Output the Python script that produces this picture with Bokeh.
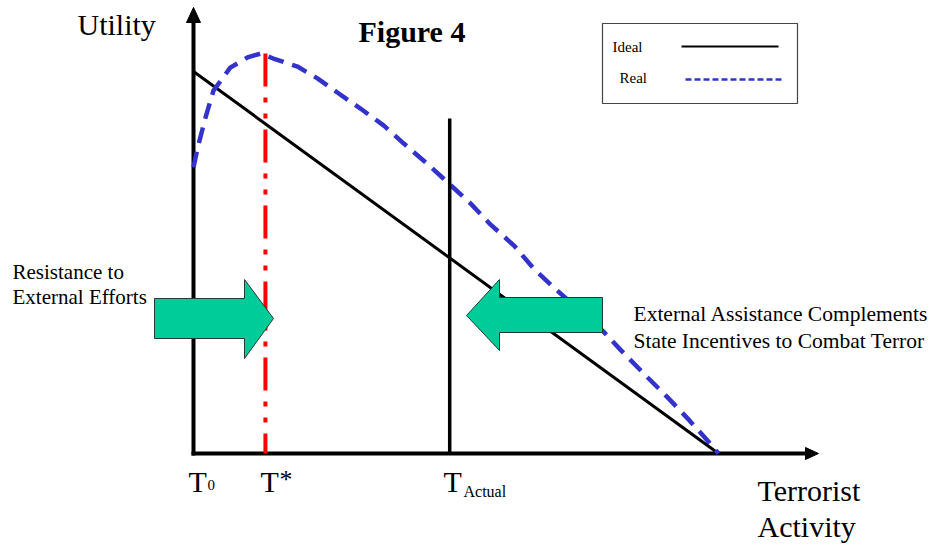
from bokeh.plotting import figure
from bokeh.models import Range1d, Label
from bokeh.embed import file_html
from bokeh.resources import INLINE

# ---------------- data (activity units / utility units) ----------------
ideal_x = [0, 10]
ideal_y = [10, 0]
real_x = [0, 0.08, 0.23, 0.38, 0.70, 1.03, 1.28, 1.52, 1.98, 2.36, 2.74, 3.18, 3.62,
          4.00, 4.38, 4.76, 5.28, 5.66, 6.10, 6.48, 6.86, 7.81, 8.13, 8.65, 9.03,
          9.41, 9.79, 10.0]
real_y = [7.49, 8.01, 8.80, 9.50, 10.10, 10.37, 10.47, 10.34, 10.13, 9.82, 9.45, 9.03,
          8.59, 8.12, 7.67, 7.20, 6.54, 5.99, 5.45, 4.84, 4.35, 3.19, 2.72, 1.99,
          1.47, 0.92, 0.34, 0]
t_star = 1.37
t_actual = 4.88
t_actual_top = 8.77
legend_labels = ["Ideal", "Real"]

# ---------------- layout helpers (picture pixels -> data) ----------------
W, H = 930, 545
SX = 52.5   # px per activity unit
SY = 38.2   # px per utility unit


def X(px):
    return (px - 193) / SX


def Y(py):
    return (453 - py) / SY


FONT = "Liberation Serif"
BLUE = "#3333CC"
GREEN = "#00CC99"

p = figure(width=W, height=H,
           x_range=Range1d(X(0), X(W)), y_range=Range1d(Y(H), Y(0)),
           output_backend="svg", toolbar_location=None,
           x_axis_location=None, y_axis_location=None,
           min_border=0, outline_line_color=None)
p.grid.visible = False

# axes
p.line([0, 0], [Y(455), Y(21)], line_width=4, color="black")
p.patch([X(186), X(193), X(200)], [Y(22), Y(7), Y(22)], color="black")
p.line([X(191), X(806)], [0, 0], line_width=4, color="black")
p.patch([X(805), X(818), X(805)], [Y(447), Y(453), Y(459)], color="black")

# curves
p.line(ideal_x, ideal_y, line_width=3, color="black")
p.line(real_x, real_y, line_width=4.5, color=BLUE, line_dash="16 9")
p.line([t_star, t_star], [max(real_y), 0], line_width=4, color="red",
       line_dash="33 11 5 11 5 11")
p.line([t_actual, t_actual], [0, t_actual_top], line_width=3.5, color="black")

# block arrows
ra = [(154, 298), (244, 298), (244, 279), (273, 318), (244, 358), (244, 338), (154, 338)]
la = [(602, 297), (499, 297), (499, 279), (466, 315), (499, 350), (499, 332), (602, 332)]
for pts in (ra, la):
    p.patch([X(a) for a, b in pts], [Y(b) for a, b in pts],
            fill_color=GREEN, line_color="#1f3d33", line_width=1)

# legend box
p.quad(left=X(602), right=X(797), top=Y(23), bottom=Y(103),
       fill_color="white", line_color="#444444", line_width=1.2)
p.line([X(681), X(778)], [Y(46), Y(46)], line_width=2, color="black")
p.line([X(685), X(782)], [Y(79), Y(79)], line_width=2.5, color=BLUE, line_dash="6 3")


def lab(text, px, py, size, style="normal", align="left"):
    shift = 3 + 0.28 * size   # renderer places alphabetic baseline a bit lower
    p.add_layout(Label(x=X(px), y=Y(py - shift), text=text, text_font=FONT,
                       text_font_size=f"{size}px", text_font_style=style,
                       text_baseline="alphabetic", text_align=align,
                       text_color="black"))


lab(legend_labels[0], 612, 54, 15)
lab(legend_labels[1], 619, 85, 15)

lab("Utility", 77, 35, 30)
lab("Figure 4", 358, 42, 30, style="bold")

lab("T", 188, 492, 30)
lab("0", 207, 492, 15)
lab("T", 260, 492, 30)
lab("*", 279, 489, 26)
lab("T", 443, 492, 30)
lab("Actual", 463, 498, 16)

lab("Terrorist", 757, 501, 30)
lab("Activity", 757, 537, 30)

lab("Resistance to", 12, 280, 21)
lab("External Efforts", 12, 305, 21)
lab("External Assistance Complements", 633, 323, 21.5)
lab("State Incentives to Combat Terror", 633, 350, 21.5)

open("out.html", "w").write(file_html(p, INLINE))
